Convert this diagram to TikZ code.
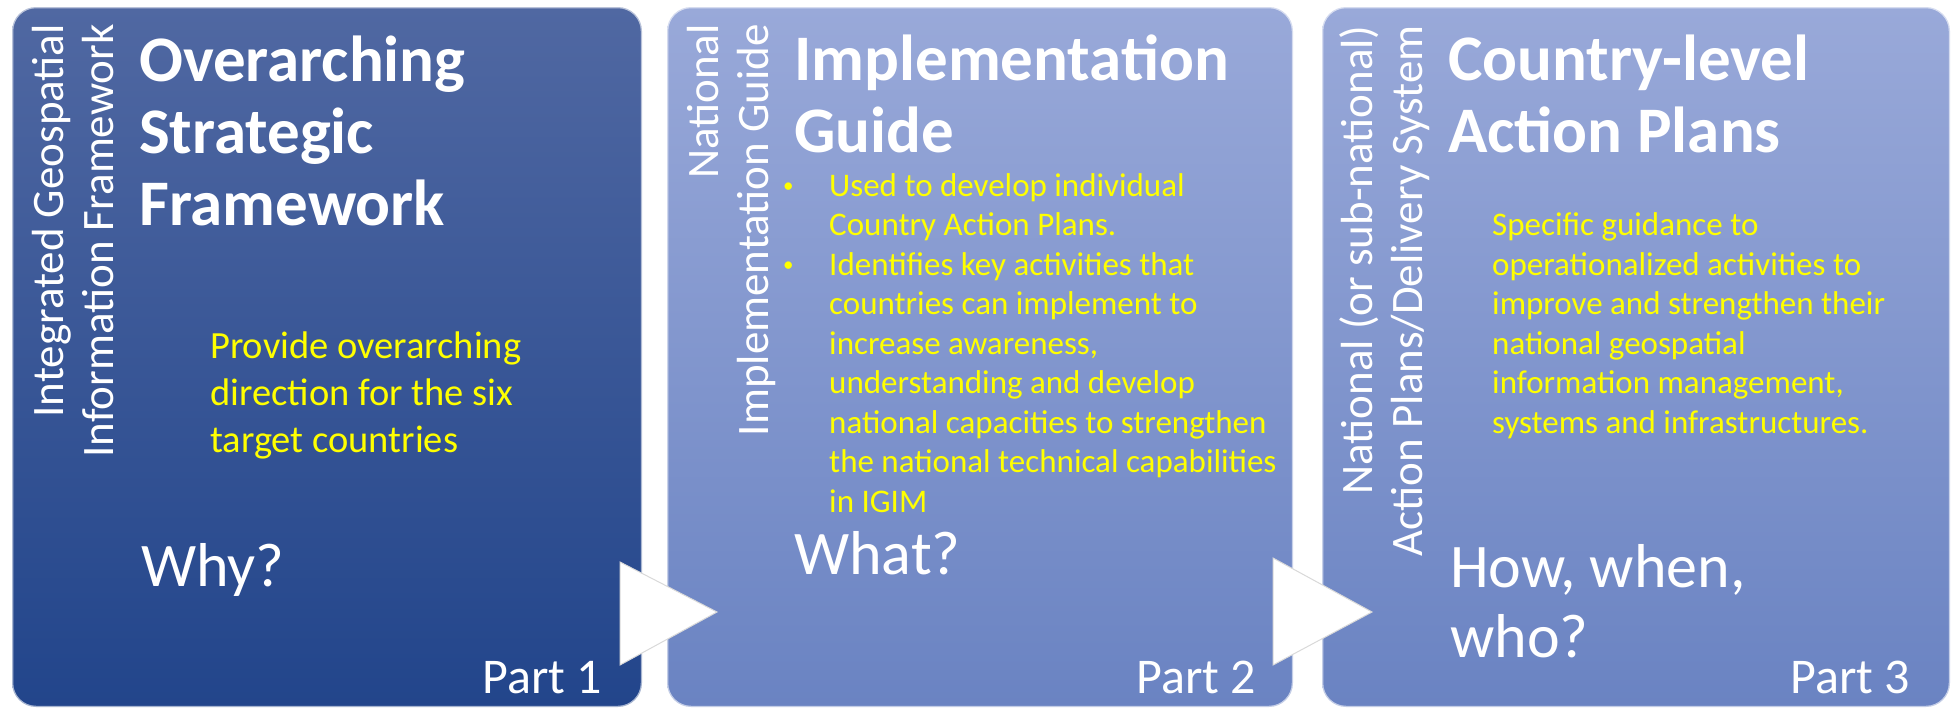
\documentclass[tikz,border=0pt]{standalone}
\usepackage{fontspec}
\setmainfont{Carlito}
\usetikzlibrary{positioning}
\definecolor{darktop}{HTML}{5068A2}
\definecolor{darkbot}{HTML}{22458B}
\definecolor{lighttop}{HTML}{99A9D9}
\definecolor{lightbot}{HTML}{6A83C2}
\definecolor{bodyyel}{HTML}{FFFF00}
\tikzset{panel/.style={rounded corners=24pt,minimum height=700pt,inner sep=0pt,draw=white,draw opacity=0.6,line width=2.5pt},
  darkpanel/.style={panel,top color=darktop,bottom color=darkbot},
  lightpanel/.style={panel,top color=lighttop,bottom color=lightbot},
  sidetext/.style={white,rotate=90,anchor=base east,align=right,inner sep=0pt,font=\fontsize{45}{50}\selectfont},
  heading/.style={white,anchor=base west,align=left,inner sep=0pt,font=\bfseries\fontsize{65}{72}\selectfont},
  body/.style={bodyyel,anchor=base west,align=left,inner sep=0pt,font=\fontsize{33}{39.5}\selectfont},
  question/.style={white,anchor=base west,align=left,inner sep=0pt,font=\fontsize{62}{70}\selectfont},
  partlabel/.style={white,anchor=base east,inner sep=0pt,font=\fontsize{50}{60}\selectfont},
  pointer/.style={fill=white,draw=gray!30,line width=1pt}}
\newcommand{\bul}{\llap{\makebox[46pt][l]{\raisebox{4pt}{\fontsize{21}{21}\selectfont •}}}}

\begin{document}
\begin{tikzpicture}[x=1pt,y=-1pt]
    \useasboundingbox (0,0) rectangle (1953,710);
    \node[darkpanel,minimum width=630pt] (framework) at (327,357) {};
    \node[lightpanel,minimum width=626pt] (guide) at (980,357) {};
    \node[lightpanel,minimum width=628pt] (plans) at (1636,357) {};

    \fill[pointer] (620,562) -- (717,612) -- (620,665) -- cycle;
    \fill[pointer] (1273,558) -- (1372,612) -- (1273,665) -- cycle;

    % multi-line nodes sit on the baseline of their last line
    \node[sidetext] (fwside) at (113,24) {Integrated Geospatial\\Information Framework};
    \node[heading] (fwhead) at (139,225) {Overarching\\Strategic\\Framework};
    \node[body,font=\fontsize{38.5}{47}\selectfont] (fwbody) at (210,452) {Provide overarching\\direction for the six\\target countries};
    \node[question] (fwq) at (141,586.5) {Why?};
    \node[partlabel] (fwpart) at (602,693) {Part 1};

    \node[sidetext] (gdside) at (768,24) {National\\Implementation Guide};
    \node[heading] (gdhead) at (794,152) {Implementation\\Guide};
    \node[body] (gdbody) at (829,512) {\bul Used to develop individual\\Country Action Plans.\\\bul Identifies key activities that\\countries can implement to\\increase awareness,\\understanding and develop\\national capacities to strengthen\\the national technical capabilities\\in IGIM};
    \node[question] (gdq) at (794,574) {What?};
    \node[partlabel] (gdpart) at (1256,693) {Part 2};

    \node[sidetext] (plside) at (1422,25) {National (or sub-national)\\Action Plans/Delivery System};
    \node[heading] (plhead) at (1448,152) {Country-level\\Action Plans};
    \node[body] (plbody) at (1492,433) {Specific guidance to\\operationalized activities to\\improve and strengthen their\\national geospatial\\information management,\\systems and infrastructures.};
    \node[question] (plq) at (1450,657) {How, when,\\who?};
    \node[partlabel] (plpart) at (1910,693) {Part 3};
\end{tikzpicture}
\end{document}
